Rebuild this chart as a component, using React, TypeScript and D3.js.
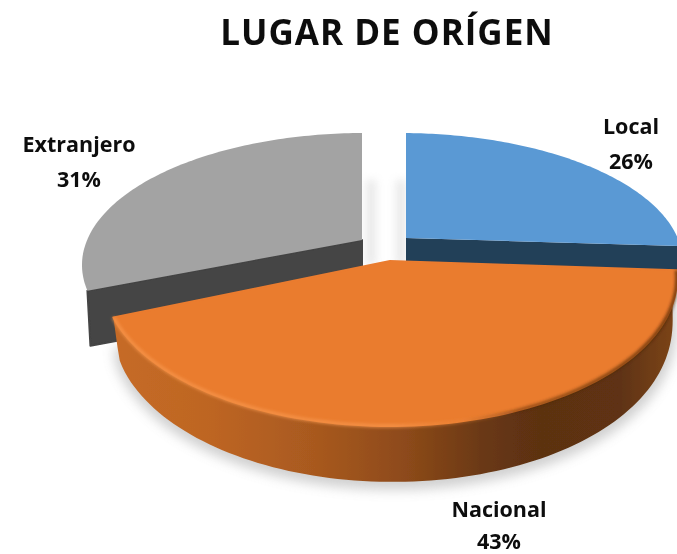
import React from "react";
import * as d3 from "d3";

const categories = ["Local", "Nacional", "Extranjero"];
const values = [26, 43, 31];
const title = "LUGAR DE ORÍGEN";

const W = 677, H = 554;
const FONT = "'Open Sans', 'Noto Sans', sans-serif";

// Where each exploded slice sits on the page: a perspective-tilted ellipse plus its apex.
const geometry = [
  { ax: 406, ay: 238, cx: 400, cy: 263, rx: 283, ry: 130, depth: 40 },
  { ax: 390, ay: 261, cx: 390, cy: 278, rx: 287, ry: 148, depth: 56 },
  { ax: 362, ay: 240, cx: 365, cy: 265, rx: 283, ry: 132, depth: 55 },
];
const topColors = ["#5a99d4", "#ea7b2f", "#a3a3a3"];
const wallColors = ["#223f59", "#b0591e", "#444444"];
const labelPos = [
  { x: 631, y1: 134, y2: 169 },
  { x: 499, y1: 517, y2: 549 },
  { x: 79, y1: 152, y2: 187 },
];

type G = (typeof geometry)[number];

// Ray from the apex in pie direction theta, intersected with the ellipse.
function rim(g: G, theta: number): [number, number] {
  const px = (g.ax - g.cx) / g.rx, py = (g.ay - g.cy) / g.ry;
  const dx = Math.sin(theta), dy = -Math.cos(theta);
  const pd = px * dx + py * dy;
  const t = -pd + Math.sqrt(pd * pd + 1 - px * px - py * py);
  return [g.cx + g.rx * (px + t * dx), g.cy + g.ry * (py + t * dy)];
}

const line = d3.line<[number, number]>();
const arcs = d3.pie<number>().sort(null)(values);

function edge(g: G, a0: number, a1: number, depth = 0, endDepth = depth, shrink = 0): [number, number][] {
  const n = 100;
  return d3.range(n + 1).map((i) => {
    const f = i / n;
    const [x, y] = rim(g, a0 + (a1 - a0) * f);
    const bulge = Math.pow(Math.sin(Math.PI * f), 0.3);
    return [g.cx + (x - g.cx) * (1 - shrink), y + endDepth + (depth - endDepth) * bulge] as [number, number];
  });
}

const orange = geometry[1];
const oArc = arcs[1];

export default function App() {
  const faces = arcs.map((a, i) => {
    const g = geometry[i];
    return line([[g.ax, g.ay], ...edge(g, a.startAngle, a.endAngle)]) + "Z";
  });
  // flat cut wall of the side slices
  const wall = (i: number, angle: number) => {
    const g = geometry[i];
    const e = rim(g, angle);
    return line([
      [g.ax, g.ay],
      e,
      [e[0] + 3, e[1] + g.depth],
      [g.ax, g.ay + g.depth],
    ]) + "Z";
  };
  const oTop = edge(orange, oArc.startAngle, oArc.endAngle);
  const oBottom = edge(orange, oArc.startAngle, oArc.endAngle, orange.depth, 30, 0.015).reverse();
  const rimPath = line([...oTop, ...oBottom]) + "Z";
  const frontEdge = line(oTop);
  const shadowPath = line(edge(orange, oArc.startAngle, oArc.endAngle, orange.depth + 8, 30)) + "Z";

  return (
    <svg width={W} height={H} viewBox={`0 0 ${W} ${H}`}
      style={{ position: "absolute", left: 0, top: 0, background: "#fff" }}>
      <defs>
        <filter id="b8" x="-20%" y="-20%" width="140%" height="140%"><feGaussianBlur stdDeviation="6" /></filter>
        <filter id="b4" x="-100%" y="-30%" width="300%" height="160%"><feGaussianBlur stdDeviation="4" /></filter>
        <filter id="b2" x="-5%" y="-5%" width="110%" height="110%"><feGaussianBlur stdDeviation="1.6" /></filter>
        <filter id="soft" x="-5%" y="-5%" width="110%" height="110%"><feGaussianBlur stdDeviation="0.6" /></filter>
        <filter id="txt" x="-5%" y="-20%" width="110%" height="140%"><feGaussianBlur stdDeviation="0.35" /></filter>
        <linearGradient id="rimFill" gradientUnits="userSpaceOnUse" x1="112" x2="677" y1="0" y2="0">
          <stop offset="0" stopColor="#c66b26" />
          <stop offset="0.18" stopColor="#bd6523" />
          <stop offset="0.36" stopColor="#a8591f" />
          <stop offset="0.52" stopColor="#8d4a1a" />
          <stop offset="0.66" stopColor="#693813" />
          <stop offset="0.76" stopColor="#5c3011" />
          <stop offset="0.9" stopColor="#5f3312" />
          <stop offset="1" stopColor="#7d4517" />
        </linearGradient>
        <linearGradient id="lipFill" gradientUnits="userSpaceOnUse" x1="112" x2="677" y1="0" y2="0">
          <stop offset="0" stopColor="#f8994f" stopOpacity="0.7" />
          <stop offset="0.5" stopColor="#f8994f" stopOpacity="0.7" />
          <stop offset="0.62" stopColor="#f08a3c" stopOpacity="0.4" />
          <stop offset="0.72" stopColor="#4a2408" stopOpacity="0.5" />
          <stop offset="1" stopColor="#4a2408" stopOpacity="0.75" />
        </linearGradient>
      </defs>

      <text x={387} y={45} textAnchor="middle" fontFamily={FONT} fontWeight={700} fontSize={35}
        letterSpacing={1} fill="#111" filter="url(#txt)">{title}</text>

      <path d={shadowPath} fill="#8a8a8a" opacity={0.4} filter="url(#b8)" />
      <rect x={366} y={180} width={10} height={85} fill="#b5b5b5" opacity={0.3} filter="url(#b4)" />
      <rect x={396} y={180} width={10} height={85} fill="#b5b5b5" opacity={0.3} filter="url(#b4)" />

      <g filter="url(#soft)">
        <path d={wall(2, arcs[2].startAngle)} fill={wallColors[2]} stroke={wallColors[2]} strokeWidth={2} strokeLinejoin="round" />
        <path d={faces[2]} fill={topColors[2]} />
        <path d={wall(0, arcs[0].endAngle)} fill={wallColors[0]} />
        <path d={faces[0]} fill={topColors[0]} />
        <path d={rimPath} fill="url(#rimFill)" />
        <path d={faces[1]} fill={topColors[1]} stroke={topColors[1]} strokeWidth={2} strokeLinejoin="round" />
      </g>
      <path d={frontEdge ?? ""} fill="none" stroke="url(#lipFill)" strokeWidth={3.5} filter="url(#b2)" />

      {categories.map((c, i) => (
        <g key={c} fontFamily={FONT} fontWeight={700} fontSize={21.5} fill="#111" textAnchor="middle" filter="url(#txt)">
          <text x={labelPos[i].x} y={labelPos[i].y1}>{c}</text>
          <text x={labelPos[i].x} y={labelPos[i].y2}>{values[i]}%</text>
        </g>
      ))}
    </svg>
  );
}
